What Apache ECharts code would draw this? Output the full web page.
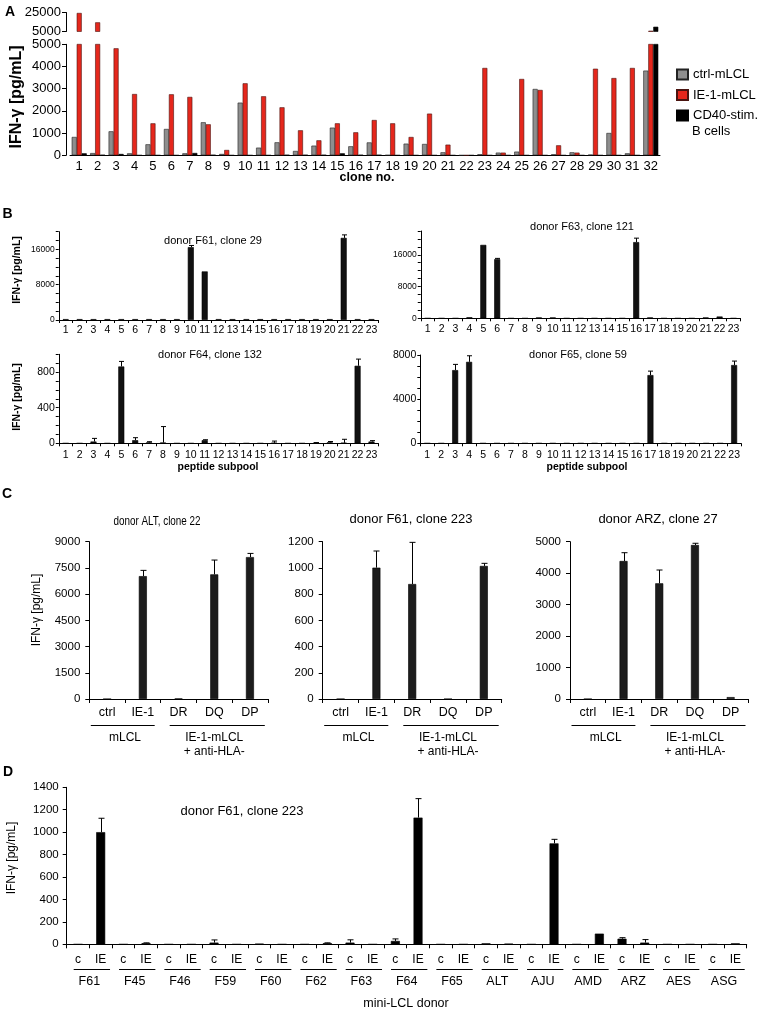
<!DOCTYPE html>
<html><head><meta charset="utf-8">
<script src="https://cdn.jsdelivr.net/npm/echarts@6/dist/echarts.min.js"></script>
<style>html,body{margin:0;padding:0;background:#fff}#c{width:760px;height:1011px}</style>
</head><body><div id="c"></div>
<script>
const FF = 'Liberation Sans, Arial, Helvetica, sans-serif';

// ---------- Panel A ----------
const aClones = ['1','2','3','4','5','6','7','8','9','10','11','12','13','14','15','16','17','18','19','20','21','22','23','24','25','26','27','28','29','30','31','32'];
const aCtrl = [826,100,1080,90,495,1186,90,1487,60,2372,345,585,195,435,1246,405,580,10,525,510,135,0,45,120,165,2988,45,135,30,1005,90,3815];
const aIE1  = [24500,14650,4820,2760,1440,2748,2630,1396,240,3243,2658,2162,1126,675,1441,1036,1590,1441,825,1877,480,0,3934,120,3438,2943,450,120,3900,3480,3934,5800];
const aCD40 = [90,15,60,0,0,0,105,15,0,0,0,15,15,15,90,15,15,0,0,0,0,0,0,0,0,0,0,0,0,0,0,10000];
const aYLowerTicks = [0,1000,2000,3000,4000,5000];
const aYUpperTicks = [5000,25000];

// ---------- Panel B ----------
const bPools = ['1','2','3','4','5','6','7','8','9','10','11','12','13','14','15','16','17','18','19','20','21','22','23'];
const bF61    = [200,200,200,200,200,200,200,200,200,16500,11000,200,200,200,200,200,200,200,200,200,18600,200,200];
const bF61Err = [0,0,0,0,0,0,0,0,0,380,0,0,0,0,0,0,0,0,0,0,680,0,0];
const bF63    = [0,0,0,250,18500,14900,0,0,200,200,0,0,0,0,0,19200,200,0,0,0,200,450,0];
const bF63Err = [0,0,0,0,0,200,0,0,0,0,0,0,0,0,0,1000,0,0,0,0,0,0,0];
const bF64    = [0,0,20,0,863,35,10,8,0,0,35,0,0,0,0,5,0,0,5,10,5,871,20];
const bF64Err = [0,0,35,0,57,28,8,180,0,0,5,0,0,0,0,20,0,0,3,10,40,75,10];
const bF65    = [0,0,6630,7380,0,0,0,0,0,0,0,0,0,0,0,0,6180,0,0,0,0,0,7090];
const bF65Err = [0,0,520,550,0,0,0,0,0,0,0,0,0,0,0,0,360,0,0,0,0,0,360];
const bTicks1 = [0,2000,4000,6000,8000,10000,12000,14000,16000,18000,20000];
const bLabels1 = [0,8000,16000];
const bTicks2 = [0,2000,4000,6000,8000,10000,12000,14000,16000,18000,20000,22000];
const bLabels2 = [0,8000,16000];
const bTicks3 = [0,100,200,300,400,500,600,700,800,900,1000];
const bLabels3 = [0,400,800];
const bTicks4 = [0,1000,2000,3000,4000,5000,6000,7000,8000];
const bLabels4 = [0,4000,8000];

// ---------- Panel C ----------
const cCats = ['ctrl','IE-1','DR','DQ','DP'];
const cALT    = [0,7030,25,7130,8120];
const cALTErr = [0,330,0,820,210];
const cF61    = [0,1002,877,0,1015];
const cF61Err = [0,127,318,0,20];
const cARZ    = [0,4386,3677,4895,60];
const cARZErr = [0,264,423,55,0];
const cTicks1 = [0,1500,3000,4500,6000,7500,9000];
const cTicks2 = [0,200,400,600,800,1000,1200];
const cTicks3 = [0,1000,2000,3000,4000,5000];
const cGroupNames = ['mLCL','IE-1-mLCL\n+ anti-HLA-'];
const cGroupStart = [0,2];
const cGroupEnd = [1,4];

// ---------- Panel D ----------
const dDonors = ['F61','F45','F46','F59','F60','F62','F63','F64','F65','ALT','AJU','AMD','ARZ','AES','ASG'];
const dPair = ['c','IE'];
const dCtrl    = [0,0,0,15,5,0,15,30,0,8,0,0,50,0,0];
const dCtrlErr = [0,0,0,24,0,0,25,18,0,0,0,0,9,0,0];
const dIE      = [1000,10,0,0,0,10,0,1130,0,5,900,95,15,0,8];
const dIEErr   = [124,3,0,0,0,3,0,169,0,0,36,0,27,0,0];
const dTicks = [0,200,400,600,800,1000,1200,1400];

// build D category axis / data (interleave c, IE)
const dCats = [], dVals = [], dErrs = [];
dDonors.forEach((d, i) => {
  dCats.push(dPair[0], dPair[1]);
  dVals.push(dCtrl[i], dIE[i]);
  dErrs.push(dCtrlErr[i], dIEErr[i]);
});
const dGroupStart = dDonors.map((d, i) => 2 * i);
const dGroupEnd = dDonors.map((d, i) => 2 * i + 1);

// ---------- helpers ----------
function xAx(idx, data, o) {
  return {
    gridIndex: idx, type: 'category', data: data, boundaryGap: true, show: o.show !== false,
    axisLine: {show: true, lineStyle: {color: '#000', width: 1}},
    axisTick: {show: o.tick !== false, length: o.tickLen || 3, interval: 0, lineStyle: {color: '#000'}},
    axisLabel: {show: true, interval: 0, color: '#000', fontFamily: FF, fontSize: o.fs || 12, margin: o.margin || 6},
    splitLine: {show: false}
  };
}
function yAx(idx, o) {
  return {
    gridIndex: idx, type: 'value', min: o.min, max: o.max, offset: o.offset || 0,
    axisLine: {show: true, lineStyle: {color: '#000', width: 1}},
    axisTick: {show: true, length: o.tickLen || 3, customValues: o.ticks, lineStyle: {color: '#000'}},
    axisLabel: {customValues: o.labels || o.ticks, color: '#000', fontFamily: FF, fontSize: o.fs || 12,
      margin: o.margin || 6, formatter: v => String(v)},
    splitLine: {show: false}
  };
}
function bars(idx, name, data, color, width, border) {
  return {
    type: 'bar', name: name, xAxisIndex: idx, yAxisIndex: idx, data: data, barWidth: width, barGap: '0%',
    clip: true, silent: true,
    itemStyle: {color: color, borderColor: border || '#000', borderWidth: border === null ? 0 : 0.6}
  };
}
function errorBars(idx, vals, errs, cap) {
  return {
    type: 'custom', xAxisIndex: idx, yAxisIndex: idx, z: 5, silent: true,
    data: vals.map((v, i) => [i, v, errs[i]]),
    encode: {x: 0, y: 1},
    renderItem: function (params, api) {
      const e = api.value(2);
      if (!e) return null;
      const i = api.value(0), v = api.value(1);
      const p0 = api.coord([i, v]);
      const p1 = api.coord([i, v + e]);
      const x = Math.round(p0[0]) + 0.5;
      return {type: 'group', children: [
        {type: 'line', shape: {x1: x, y1: p0[1], x2: x, y2: p1[1]}, style: {stroke: '#000', lineWidth: 1}},
        {type: 'line', shape: {x1: x - cap, y1: p1[1], x2: x + cap, y2: p1[1]}, style: {stroke: '#000', lineWidth: 1}}
      ]};
    }
  };
}
function groupLabels(idx, starts, ends, names, insetL, insetR, lineDy, textDy, fs, lh) {
  return {
    type: 'custom', xAxisIndex: idx, yAxisIndex: idx, silent: true, clip: false, z: 5,
    data: starts.map((s, k) => [s, ends[k], 0]),
    encode: {x: [0, 1], y: 2},
    renderItem: function (params, api) {
      const k = params.dataIndex;
      const a = api.coord([api.value(0), 0]);
      const b = api.coord([api.value(1), 0]);
      const bw = api.size([1, 0])[0];
      const x0 = a[0] - bw / 2 + insetL[k % insetL.length];
      const x1 = b[0] + bw / 2 - insetR[k % insetR.length];
      const ly = Math.round(a[1] + lineDy) + 0.5;
      return {type: 'group', children: [
        {type: 'line', shape: {x1: x0, y1: ly, x2: x1, y2: ly}, style: {stroke: '#000', lineWidth: 1}},
        {type: 'text', x: (a[0] + b[0]) / 2, y: a[1] + textDy,
          style: {text: names[k], fill: '#000', font: fs + 'px ' + FF, textAlign: 'center', textVerticalAlign: 'top', lineHeight: lh}}
      ]};
    }
  };
}
function txt(t, x, y, font, opts) {
  opts = opts || {};
  return {type: 'text', x: x, y: y, rotation: opts.rot || 0, scaleX: opts.sx || 1, silent: true,
    style: {text: t, fill: '#000', font: font + ' ' + FF, textAlign: opts.align || 'center', textVerticalAlign: 'middle'}};
}

const GRAY = '#8e8e8e', RED = '#e5271c', BLK = '#111';

const grids = [
  {left: 70, top: 12.5, width: 590, height: 19},
  {left: 70, top: 44.3, width: 590, height: 111},
  {left: 58.75, top: 231.7, width: 319.7, height: 88.3},
  {left: 420.75, top: 231, width: 319.7, height: 87.3},
  {left: 58.75, top: 354.3, width: 319.7, height: 89},
  {left: 420.3, top: 355, width: 320.8, height: 88.3},
  {left: 89.3, top: 541.7, width: 178.5, height: 157.3},
  {left: 322.7, top: 541.7, width: 179, height: 157.3},
  {left: 570, top: 541.7, width: 178.5, height: 157.3},
  {left: 66.7, top: 787.3, width: 680, height: 157}
].map(g => Object.assign({containLabel: false, outerBoundsMode: 'none'}, g));

const xAxes = [
  xAx(0, aClones, {show: false}),
  xAx(1, aClones, {tick: false, fs: 13, margin: 5}),
  xAx(2, bPools, {fs: 10.5, margin: 5}),
  xAx(3, bPools, {fs: 10.5, margin: 5}),
  xAx(4, bPools, {fs: 10.5, margin: 6}),
  xAx(5, bPools, {fs: 10.5, margin: 6}),
  xAx(6, cCats, {fs: 12.5, margin: 7, tickLen: 4}),
  xAx(7, cCats, {fs: 12.5, margin: 7, tickLen: 4}),
  xAx(8, cCats, {fs: 12.5, margin: 7, tickLen: 4}),
  xAx(9, dCats, {fs: 12, margin: 9, tickLen: 4})
];
const yAxes = [
  yAx(0, {min: 5000, max: 25000, ticks: aYUpperTicks, fs: 13, margin: 5, offset: 4, tickLen: 4}),
  yAx(1, {min: 0, max: 5000, ticks: aYLowerTicks, fs: 13, margin: 5, offset: 4, tickLen: 4}),
  yAx(2, {min: 0, max: 20000, ticks: bTicks1, labels: bLabels1, fs: 8.5, margin: 4}),
  yAx(3, {min: 0, max: 22000, ticks: bTicks2, labels: bLabels2, fs: 8.5, margin: 4}),
  yAx(4, {min: 0, max: 1000, ticks: bTicks3, labels: bLabels3, fs: 10.5, margin: 4}),
  yAx(5, {min: 0, max: 8000, ticks: bTicks4, labels: bLabels4, fs: 10.5, margin: 4}),
  yAx(6, {min: 0, max: 9000, ticks: cTicks1, fs: 11.5, margin: 9, tickLen: 4}),
  yAx(7, {min: 0, max: 1200, ticks: cTicks2, fs: 11.5, margin: 9, tickLen: 4}),
  yAx(8, {min: 0, max: 5000, ticks: cTicks3, fs: 11.5, margin: 9, tickLen: 4}),
  yAx(9, {min: 0, max: 1400, ticks: dTicks, fs: 11.5, margin: 8, tickLen: 4})
];

const upper = arr => arr.map(v => (v > 5000 ? v : '-'));

const series = [
  bars(0, 'ctrl-mLCL', upper(aCtrl), GRAY, 5, '#222'),
  bars(0, 'IE-1-mLCL', upper(aIE1), RED, 5, '#4a1410'),
  bars(0, 'CD40-stim.', upper(aCD40), '#000', 5, '#000'),
  bars(1, 'ctrl-mLCL', aCtrl, GRAY, 5, '#222'),
  bars(1, 'IE-1-mLCL', aIE1, RED, 5, '#4a1410'),
  bars(1, 'CD40-stim.', aCD40, '#000', 5, '#000'),

  bars(2, 'b1', bF61, BLK, 6, '#000'), errorBars(2, bF61, bF61Err, 2.5),
  bars(3, 'b2', bF63, BLK, 6, '#000'), errorBars(3, bF63, bF63Err, 2.5),
  bars(4, 'b3', bF64, BLK, 6, '#000'), errorBars(4, bF64, bF64Err, 2.5),
  bars(5, 'b4', bF65, BLK, 6, '#000'), errorBars(5, bF65, bF65Err, 2.5),

  bars(6, 'c1', cALT, '#1c1c1c', 8, '#000'), errorBars(6, cALT, cALTErr, 3),
  bars(7, 'c2', cF61, '#1c1c1c', 8, '#000'), errorBars(7, cF61, cF61Err, 3),
  bars(8, 'c3', cARZ, '#1c1c1c', 8, '#000'), errorBars(8, cARZ, cARZErr, 3),
  groupLabels(6, cGroupStart, cGroupEnd, cGroupNames, [1.5, 9], [6, 3], 26, 32, 12, 13.7),
  groupLabels(7, cGroupStart, cGroupEnd, cGroupNames, [1.5, 9], [6, 3], 26, 32, 12, 13.7),
  groupLabels(8, cGroupStart, cGroupEnd, cGroupNames, [1.5, 9], [6, 3], 26, 32, 12, 13.7),

  bars(9, 'd', dVals, '#000', 9, '#000'), errorBars(9, dVals, dErrs, 3),
  groupLabels(9, dGroupStart, dGroupEnd, dDonors, [7], [2], 25, 30, 12.5, 14)
];

const graphics = [
  txt('A', 10, 12, 'bold 14px'),
  txt('B', 7.5, 214, 'bold 14px'),
  txt('C', 7, 494, 'bold 14px'),
  txt('D', 8, 772, 'bold 14px'),
  txt('IFN-\u03b3 [pg/mL]', 17, 97, 'bold 16px', {rot: Math.PI / 2}),
  txt('clone no.', 367, 178, 'bold 12.5px'),
  txt('B cells', 692, 131, '13px', {align: 'left'}),
  txt('IFN-\u03b3 [pg/mL]', 17, 270, 'bold 10.5px', {rot: Math.PI / 2}),
  txt('IFN-\u03b3 [pg/mL]', 17, 397, 'bold 10.5px', {rot: Math.PI / 2}),
  txt('donor F61, clone 29', 213, 241, '11px'),
  txt('donor F63, clone 121', 582, 227, '11px'),
  txt('donor F64, clone 132', 210, 355, '11px'),
  txt('donor F65, clone 59', 578, 355, '11px'),
  txt('peptide subpool', 218, 467, 'bold 10.5px'),
  txt('peptide subpool', 587, 467, 'bold 10.5px'),
  txt('IFN-\u03b3 [pg/mL]', 36.5, 610, '12px', {rot: Math.PI / 2}),
  txt('donor ALT, clone 22', 157, 521, '13px', {sx: 0.76}),
  txt('donor F61, clone 223', 411, 519, '13px'),
  txt('donor ARZ, clone 27', 658, 519, '13px'),
  txt('IFN-\u03b3 [pg/mL]', 12, 858, '12px', {rot: Math.PI / 2}),
  txt('donor F61, clone 223', 242, 811, '13px'),
  txt('mini-LCL donor', 406, 1004, '12.5px')
];

const chart = echarts.init(document.getElementById('c'), null, {renderer: 'canvas', width: 760, height: 1011});
chart.setOption({
  animation: false,
  backgroundColor: '#fff',
  textStyle: {fontFamily: FF},
  grid: grids,
  xAxis: xAxes,
  yAxis: yAxes,
  legend: {
    left: 676, top: 68, orient: 'vertical', padding: 0, itemWidth: 11, itemHeight: 10, itemGap: 7.5, icon: 'rect',
    selectedMode: false,
    textStyle: {fontFamily: FF, fontSize: 13, color: '#000'},
    data: ['ctrl-mLCL', 'IE-1-mLCL', 'CD40-stim.']
  },
  series: series,
  graphic: graphics
});
</script></body></html>
